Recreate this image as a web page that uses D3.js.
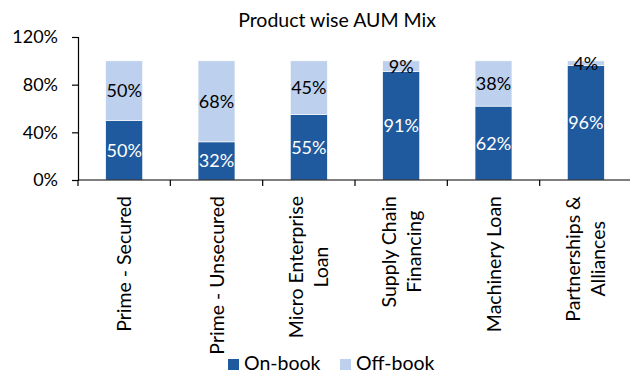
<!DOCTYPE html>
<html>
<head>
<meta charset="utf-8">
<script src="https://cdn.jsdelivr.net/npm/d3@7"></script>
<style>
  html, body { margin: 0; padding: 0; background: #ffffff; }
  svg { display: block; }
  text { font-family: Lato, "Open Sans", sans-serif; fill: #000; }
</style>
</head>
<body>
<svg id="chart" width="630" height="374"></svg>
<script>
// Product-wise AUM split, share of each product (fractions of 1)
const categories = [
  ["Prime - Secured"],
  ["Prime - Unsecured"],
  ["Micro Enterprise", "Loan"],
  ["Supply Chain", "Financing"],
  ["Machinery Loan"],
  ["Partnerships &", "Alliances"]
];
const onBook  = [0.50, 0.32, 0.55, 0.91, 0.62, 0.96];
const offBook = [0.50, 0.68, 0.45, 0.09, 0.38, 0.04];
const yTicks  = [0, 0.4, 0.8, 1.2];
const seriesNames = ["On-book", "Off-book"];
const title = "Product wise AUM Mix";

const colors = { "On-book": "#1F5A9E", "Off-book": "#BDD1EE" };
const labelColors = { "On-book": "#ffffff", "Off-book": "#000000" };

const svg = d3.select("#chart");
const plot = { left: 78, right: 632, top: 37, bottom: 180 };

const keys = categories.map(c => c.join(" "));
const rows = keys.map((k, i) => ({ key: k, "On-book": onBook[i], "Off-book": offBook[i] }));

const x = d3.scaleBand()
  .domain(keys)
  .range([plot.left, plot.right])
  .paddingInner(0.6)
  .paddingOuter(0.3);

const y = d3.scaleLinear()
  .domain([0, 1.2])
  .range([plot.bottom, plot.top]);

const stack = d3.stack().keys(seriesNames)(rows);

// Title
svg.append("text")
  .attr("x", 337)
  .attr("y", 27)
  .attr("text-anchor", "middle")
  .style("font-size", "19.5px")
  .text(title);

// Stacked bars
const layers = svg.append("g").selectAll("g")
  .data(stack)
  .join("g")
  .attr("fill", d => colors[d.key]);

layers.selectAll("rect")
  .data(d => d)
  .join("rect")
  .attr("x", d => x(d.data.key))
  .attr("width", x.bandwidth())
  .attr("y", d => y(d[1]))
  .attr("height", d => y(d[0]) - y(d[1]))
  .attr("stroke", "#ffffff")
  .attr("stroke-width", 0.6);

// Value labels centred in each segment
const fmt = d3.format(".0%");
svg.append("g").selectAll("g")
  .data(stack)
  .join("g")
  .each(function (layer) {
    d3.select(this).selectAll("text")
      .data(layer)
      .join("text")
      .attr("x", d => x(d.data.key) + x.bandwidth() / 2)
      .attr("y", d => y((d[0] + d[1]) / 2))
      .attr("dy", "0.36em")
      .attr("text-anchor", "middle")
      .style("font-size", "18px")
      .style("fill", labelColors[layer.key])
      .text(d => fmt(d.data[layer.key]));
  });

// Y axis
const yAxis = svg.append("g")
  .attr("transform", `translate(${plot.left},0)`)
  .call(d3.axisLeft(y).tickValues(yTicks).tickFormat(fmt).tickSize(6).tickPadding(14));
yAxis.select(".domain").attr("stroke", "#000").attr("stroke-width", 1.2);
yAxis.selectAll(".tick line").attr("stroke", "#000").attr("stroke-width", 1.2);
yAxis.selectAll(".tick text")
  .style("font-family", "Lato, sans-serif")
  .style("font-size", "18px")
  .attr("fill", "#000");

// X axis line with ticks at category boundaries
const step = x.step();
const edges = d3.range(keys.length + 1).map(i => plot.left + i * step);
const xAxis = svg.append("g");
xAxis.append("line")
  .attr("x1", plot.left).attr("x2", plot.right)
  .attr("y1", plot.bottom).attr("y2", plot.bottom)
  .attr("stroke", "#000").attr("stroke-width", 1.2);
xAxis.selectAll("line.tick")
  .data(edges)
  .join("line")
  .attr("class", "tick")
  .attr("x1", d => d).attr("x2", d => d)
  .attr("y1", plot.bottom).attr("y2", plot.bottom + 6)
  .attr("stroke", "#000").attr("stroke-width", 1.2);

// Rotated category labels, lines centred on each other
const labelTop = 196;
const lineGap = 25;
const catG = xAxis.selectAll("g.cat")
  .data(categories)
  .join("g")
  .attr("class", "cat")
  .attr("transform", (d, i) => `translate(${x(keys[i]) + x.bandwidth() / 2},0) rotate(-90)`);

catG.each(function (lines) {
  const g = d3.select(this);
  const texts = g.selectAll("text")
    .data(lines)
    .join("text")
    .attr("text-anchor", "middle")
    .style("font-size", "19.5px")
    .attr("y", (d, j) => (j - (lines.length - 1) / 2) * lineGap)
    .attr("dy", "0.36em")
    .text(d => d);
  let maxLen = 0;
  texts.each(function () { maxLen = Math.max(maxLen, this.getComputedTextLength()); });
  texts.attr("x", -(labelTop + maxLen / 2));
});

// Legend
const legend = svg.append("g");
const legendItems = [
  { name: "On-book", x: 228 },
  { name: "Off-book", x: 340 }
];
legendItems.forEach(item => {
  legend.append("rect")
    .attr("x", item.x).attr("y", 359)
    .attr("width", 11).attr("height", 11)
    .attr("fill", colors[item.name]);
  legend.append("text")
    .attr("x", item.x + 16).attr("y", 370)
    .style("font-size", "19.5px")
    .text(item.name);
});
</script>
</body>
</html>
